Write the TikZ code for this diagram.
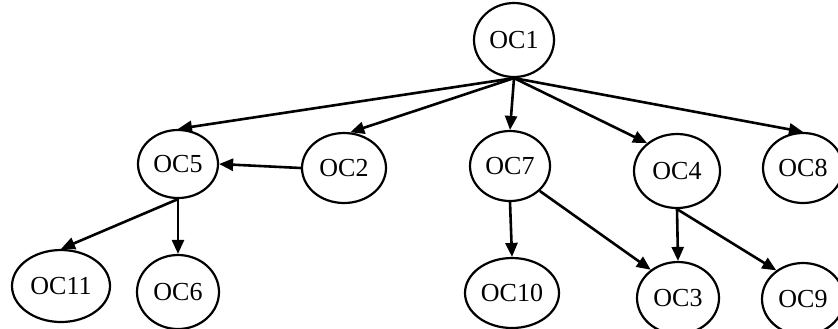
\documentclass[tikz,border=0pt]{standalone}
\usepackage{fontspec}
\setmainfont{Liberation Serif}
\usetikzlibrary{shapes.geometric,arrows.meta}

\begin{document}
\begin{tikzpicture}[x=0.5pt,y=-0.5pt,
  oc/.style={ellipse, draw=black, line width=1.1pt, inner sep=0pt, font=\fontsize{13}{15}\selectfont},
  edge/.style={black, line width=1.3pt, -{Triangle[length=7pt,width=6pt]}}]
\useasboundingbox (0,0) rectangle (838,328);
\node[oc, minimum width=40pt, minimum height=37pt] (oc1) at (514,40) {OC1};
\node[oc, minimum width=40pt, minimum height=34pt] (oc5) at (178,164) {OC5};
\node[oc, minimum width=42pt, minimum height=35pt] (oc2) at (344,168) {OC2};
\node[oc, minimum width=40pt, minimum height=35pt] (oc7) at (510,166) {OC7};
\node[oc, minimum width=43pt, minimum height=37pt] (oc4) at (677,171) {OC4};
\node[oc, minimum width=40pt, minimum height=35pt] (oc8) at (803,168) {OC8};
\node[oc, minimum width=49pt, minimum height=36pt] (oc11) at (61,286) {OC11};
\node[oc, minimum width=41pt, minimum height=37pt] (oc6) at (178,292) {OC6};
\node[oc, minimum width=47pt, minimum height=35pt] (oc10) at (512,293) {OC10};
\node[oc, minimum width=41pt, minimum height=36pt] (oc3) at (678,298) {OC3};
\node[oc, minimum width=41pt, minimum height=36pt] (oc9) at (803,299) {OC9};
%
\draw[edge] (oc1.south) -- (oc5.north);
\draw[edge] (oc1.south) -- (oc2.80);
\draw[edge] (oc1.south) -- (oc7.north);
\draw[edge] (oc1.south) -- (oc4.137);
\draw[edge] (oc1.south) -- (oc8.north);
\draw[edge] (oc2.west) -- (oc5.east);
\draw[edge] (oc5.south) -- (oc11.north);
\draw[edge] (oc5.south) -- (oc6.north);
\draw[edge] (oc7.south) -- (oc10.north);
\draw[edge] (oc7.-40) -- (oc3.134);
\draw[edge] (oc4.south) -- (oc3.north);
\draw[edge] (oc4.south) -- (oc9.133);
\end{tikzpicture}
\end{document}
